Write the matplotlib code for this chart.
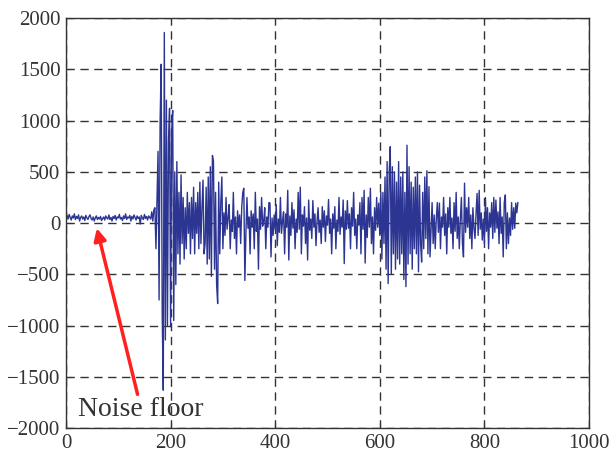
import numpy as np
import matplotlib.pyplot as plt

# signal samples, one every 2 units of x
noise_floor = [
    60, 75, 40, 85, 55, 30, 70, 50, 90, 35,
    65, 45, 80, 20, 55, 70, 40, 60, 25, 75,
    50, 35, 65, 80, 45, 30, 60, 20, 50, 70,
    35, 55, 40, 65, 25, 45, 60, 30, 70, 50,
    40, 80, 35, 55, 20, 65, 45, 75, 30, 60,
    50, 85, 40, 55, 25, 70, 45, 90, 35, 60,
    50, 75, 20, 65, 40, 80, 55, 30, 70, 45,
    60, -10, 75, 50, 35, 85, 45, 65, 30, 70,
    55, 40, 110, 20, 130,
]
main_burst = [
    150, -250, 250, 700, -750, 1000, 1550, -900, -1630, 1860,
    -1140, 1200, -1000, 800, 1120, -1010, 900, 1100, -950, 500,
    -600, 600, -300, 300, -400, 470, -200, 250, -350, 150,
    -250, 300, -100, 200, -300, 250,
]
second_burst = [
    -150, 350, -300, 200, -100, 300, -250, 400, -200, 150,
    420, -300, -200, 350, -400, 450, -350, 550, -520, 660,
    600, -450, 300, -600, -785, 400, -300, 200, 450, -250,
]
middle = [
    100, -120, 250, -60, 50, 180, -250, 30, -80, 300,
    -150, 60, -300, 120, -40, 80, -200, 150, 300, 340,
    -560, -100, 250, -50, 60, -300, 120, -40, 90, -250,
    300, -80, 40, -450, 160, -60, 250, -30, 20, 150,
    -250, 60, -40, 200, 195, -330, 50, -120, 80, -60,
    180, -220, 40, -90, 250, -100, 20, 110, -300, 90,
    -40, 320, -360, 70, -120, 200, -50, 130, -250, 40,
    -90, 300, -60, 350, -300, 80, -30, 160, -200, 50,
    -360, 225, -70, 40, -150, 220, -40, 90, -220, 20,
    150, -90, 30, -200, 160, -40, 120, -180, 70, -20,
    230, -100, 40, -300, 90, -50, 160, -250, 30, -80,
    250, -110, 60, -40, 225, -395, 120, -60, 220, -50,
    90, -250, 150, -30, 300, -120, 40, -250, 80, -20,
    200, -300, 250, -60, 320, -390, 80, -140, 250, -40,
    340, -200, 60, -300, 150, -70, 250, -40, 195, -120,
]
third_burst = [
    300, -350, 300, -200, 450, -450, 600, -590, 500, 745,
    -500, 550, -300, 500, -450, 400, -350, 600, -400, 450,
    -300, 500, -550, 300, -620, 760, -400, 550, -300, 400,
    -450, 350, -250, 450, -300, 500, -475, 370, -200, -380,
    300, -250, 450, -150, 510, -300, 355, -330, -70, 200,
]
tail = [
    -200, 80, -250, 40, 200, -90, 195, -250, 60, -40,
    250, -120, 90, -300, 150, -40, 250, -100, 50, -250,
    200, -80, 300, -150, 60, -250, 40, 250, -200, -330,
    390, -90, 150, -40, 250, -150, 80, -250, 150, -50,
    -150, 90, 290, -120, 320, -60, 100, -165, 40, -200,
    250, -80, 150, -250, 100, -40, 200, -150, 250, -90,
    225, -50, 110, -200, 250, -100, 60, -330, 200, 275,
    -250, 100, -200, 50, -120, 200, -60, 150, -50, 195,
    100, 200,
]

signal = noise_floor + main_burst + second_burst + middle + third_burst + tail
x = np.arange(len(signal)) * 2

x_ticks = [0, 200, 400, 600, 800, 1000]
y_ticks = [-2000, -1500, -1000, -500, 0, 500, 1000, 1500, 2000]

plt.rcParams['font.family'] = ['Liberation Serif', 'DejaVu Serif']

fig = plt.figure(figsize=(6.11, 4.53), dpi=100)
ax = fig.add_axes([0.108, 0.055, 0.856, 0.905])

ax.plot(x, signal, color='#2c3592', linewidth=1.0)

ax.set_xlim(0, 1000)
ax.set_ylim(-2000, 2000)
ax.set_xticks(x_ticks)
ax.set_yticks(y_ticks)
ax.tick_params(direction='in', length=4, labelsize=15, colors='#333333', pad=4)
for s in ax.spines.values():
    s.set_color('#333333')
    s.set_linewidth(1.0)

ax.grid(True, color='#333333', linestyle=(0, (6, 4)), linewidth=1.0)

# annotation
ax.annotate('Noise floor', xy=(59, -50), xytext=(23, -1820),
            fontsize=20, color='#333333', va='center', ha='left',
            arrowprops=dict(arrowstyle='-|>', color='#ff2020', lw=2.5,
                            mutation_scale=18, shrinkA=0, shrinkB=0,
                            relpos=(0.48, 1.0)))

fig.savefig('out.png', dpi=100)
